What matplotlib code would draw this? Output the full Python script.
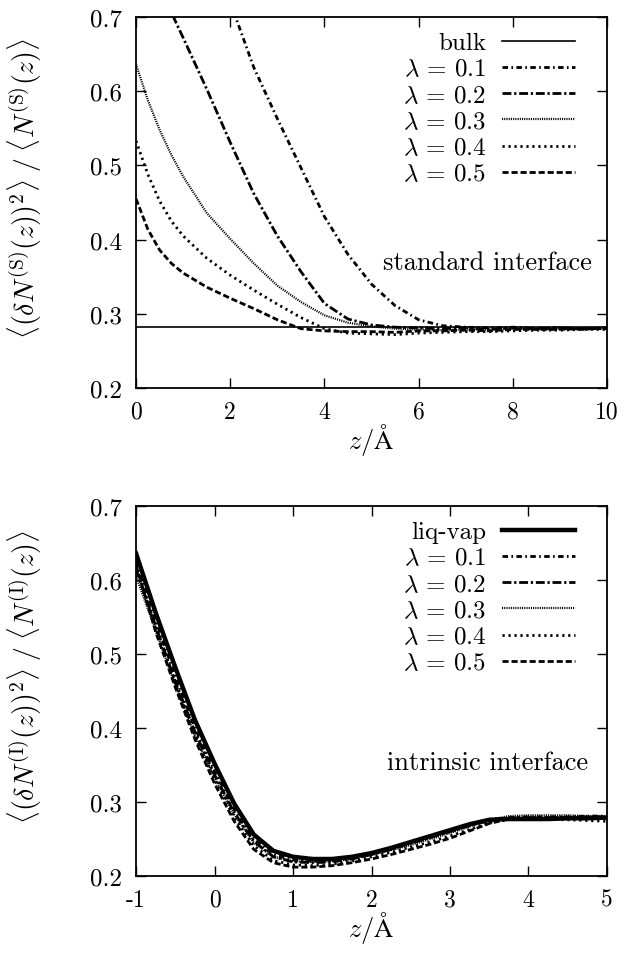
import matplotlib
matplotlib.use("Agg")
import matplotlib.pyplot as plt

plt.rcParams['font.family'] = 'cmr10'
plt.rcParams['mathtext.fontset'] = 'cm'
plt.rcParams['axes.formatter.use_mathtext'] = True
plt.rcParams['axes.unicode_minus'] = False

# ---- data: standard interface (top panel) ----
z_std = [0, 0.25, 0.5, 0.75, 1, 1.5, 2, 2.5, 3, 3.5, 4, 4.5, 5, 5.5, 6, 6.5, 7,
         7.5, 8, 8.5, 9, 9.5, 10]
bulk = [0.282] * len(z_std)
std_l01 = [1.20, 1.13, 1.06, 0.99, 0.93, 0.82, 0.72, 0.632, 0.563, 0.497, 0.431,
           0.380, 0.340, 0.311, 0.292, 0.284, 0.282, 0.281, 0.282, 0.280, 0.281,
           0.280, 0.281]
std_l02 = [0.95, 0.88, 0.81, 0.706, 0.672, 0.603, 0.531, 0.462, 0.405, 0.357,
           0.314, 0.293, 0.285, 0.282, 0.281, 0.280, 0.281, 0.279, 0.281, 0.280,
           0.281, 0.279, 0.281]
std_l03 = [0.636, 0.588, 0.548, 0.514, 0.485, 0.436, 0.401, 0.368, 0.338, 0.316,
           0.298, 0.288, 0.283, 0.280, 0.279, 0.278, 0.279, 0.279, 0.280, 0.279,
           0.280, 0.280, 0.280]
std_l04 = [0.533, 0.488, 0.452, 0.425, 0.405, 0.375, 0.352, 0.332, 0.313, 0.295,
           0.280, 0.274, 0.273, 0.272, 0.274, 0.275, 0.276, 0.276, 0.277, 0.278,
           0.278, 0.279, 0.279]
std_l05 = [0.455, 0.414, 0.386, 0.368, 0.355, 0.336, 0.321, 0.307, 0.292, 0.280,
           0.277, 0.276, 0.276, 0.275, 0.277, 0.277, 0.278, 0.277, 0.279, 0.279,
           0.279, 0.280, 0.280]

# ---- data: intrinsic interface (bottom panel) ----
z_int = [-1, -0.75, -0.5, -0.25, 0, 0.25, 0.5, 0.75, 1, 1.25, 1.5, 1.75, 2, 2.25,
         2.5, 2.75, 3, 3.25, 3.5, 3.75, 4, 4.25, 4.5, 4.75, 5]
liqvap = [0.636, 0.556, 0.482, 0.411, 0.352, 0.298, 0.256, 0.234, 0.226, 0.223,
          0.223, 0.226, 0.231, 0.238, 0.246, 0.254, 0.262, 0.270, 0.276, 0.277,
          0.277, 0.277, 0.278, 0.278, 0.279]
int_l01 = [0.625, 0.545, 0.470, 0.400, 0.342, 0.290, 0.250, 0.229, 0.222, 0.220,
           0.221, 0.224, 0.230, 0.237, 0.245, 0.253, 0.261, 0.269, 0.276, 0.279,
           0.280, 0.280, 0.280, 0.281, 0.281]
int_l02 = [0.615, 0.538, 0.463, 0.395, 0.337, 0.286, 0.247, 0.226, 0.219, 0.218,
           0.219, 0.223, 0.229, 0.236, 0.244, 0.252, 0.260, 0.268, 0.275, 0.278,
           0.279, 0.279, 0.279, 0.280, 0.280]
int_l03 = [0.605, 0.532, 0.458, 0.390, 0.333, 0.283, 0.245, 0.226, 0.220, 0.219,
           0.220, 0.223, 0.229, 0.235, 0.242, 0.250, 0.258, 0.267, 0.276, 0.281,
           0.282, 0.282, 0.282, 0.281, 0.281]
int_l04 = [0.615, 0.535, 0.460, 0.390, 0.330, 0.279, 0.241, 0.221, 0.215, 0.214,
           0.216, 0.220, 0.226, 0.232, 0.239, 0.246, 0.254, 0.263, 0.272, 0.277,
           0.278, 0.277, 0.276, 0.275, 0.274]
int_l05 = [0.620, 0.530, 0.455, 0.385, 0.325, 0.274, 0.236, 0.218, 0.212, 0.212,
           0.214, 0.218, 0.223, 0.229, 0.236, 0.243, 0.251, 0.261, 0.271, 0.277,
           0.278, 0.278, 0.278, 0.278, 0.279]

lam_labels = [r'$\lambda\,=\,0.1$', r'$\lambda\,=\,0.2$', r'$\lambda\,=\,0.3$',
              r'$\lambda\,=\,0.4$', r'$\lambda\,=\,0.5$']
yticks = [0.2, 0.3, 0.4, 0.5, 0.6, 0.7]
xticks_std = [0, 2, 4, 6, 8, 10]
xticks_int = [-1, 0, 1, 2, 3, 4, 5]

# line styles (gnuplot-like dash patterns)
styles = [
    dict(lw=2.0, dashes=(2.0, 1.2, 0.6, 1.2)),   # 0.1
    dict(lw=2.0, dashes=(3.2, 1.0, 0.8, 1.0)),   # 0.2
    dict(lw=1.6, dashes=(0.5, 0.5)),             # 0.3
    dict(lw=2.0, dashes=(0.8, 1.35)),            # 0.4
    dict(lw=2.0, dashes=(2.2, 1.05)),            # 0.5
]

fig = plt.figure(figsize=(6.33, 9.54), dpi=100)
ax1 = fig.add_axes([0.2149, 0.5922, 0.744, 0.389])
ax2 = fig.add_axes([0.2149, 0.0807, 0.744, 0.3878])

# top panel
ax1.plot(z_std, bulk, color='black', lw=1.2, label='bulk')
for y, lab, st in zip([std_l01, std_l02, std_l03, std_l04, std_l05], lam_labels, styles):
    ax1.plot(z_std, y, color='black', label=lab, **st)
ax1.set_xlim(0, 10)
ax1.set_xticks(xticks_std, labels=[str(t) for t in xticks_std])
ax1.set_ylabel(r'$\langle(\delta N^{(\mathrm{S})}(z))^2\rangle\;/\;\langle N^{(\mathrm{S})}(z)\rangle$')
ax1.text(0.968, 0.34, 'standard interface', transform=ax1.transAxes,
         ha='right', va='center', fontsize=19)

# bottom panel
ax2.plot(z_int, liqvap, color='black', lw=3.2, label='liq-vap')
for y, lab, st in zip([int_l01, int_l02, int_l03, int_l04, int_l05], lam_labels, styles):
    ax2.plot(z_int, y, color='black', label=lab, **st)
ax2.set_xlim(-1, 5)
ax2.set_xticks(xticks_int, labels=[str(t) for t in xticks_int])
ax2.set_ylabel(r'$\langle(\delta N^{(\mathrm{I})}(z))^2\rangle\;/\;\langle N^{(\mathrm{I})}(z)\rangle$')
ax2.text(0.96, 0.308, 'intrinsic interface', transform=ax2.transAxes,
         ha='right', va='center', fontsize=19)

for ax in (ax1, ax2):
    ax.set_ylim(0.2, 0.7)
    ax.set_yticks(yticks, labels=['%.1f' % t for t in yticks])
    ax.set_xlabel(r'$z/\mathrm{\AA}$', fontsize=19, labelpad=-1)
    ax.yaxis.label.set_fontsize(20)
    ax.yaxis.set_label_coords(-0.195, 0.54)
    ax.tick_params(direction='in', top=True, right=True, length=7, width=1.0)
    ax.tick_params(axis='y', pad=10, labelsize=18)
    ax.tick_params(axis='x', pad=9, labelsize=17)
    for sp in ax.spines.values():
        sp.set_linewidth(1.3)
    ax.legend(loc='upper right', bbox_to_anchor=(0.932, 0.96), markerfirst=False,
              frameon=False, fontsize=18, handlelength=2.9, handletextpad=0.65,
              labelspacing=0.15, borderpad=0, borderaxespad=0)

fig.savefig('out.png', dpi=100)
